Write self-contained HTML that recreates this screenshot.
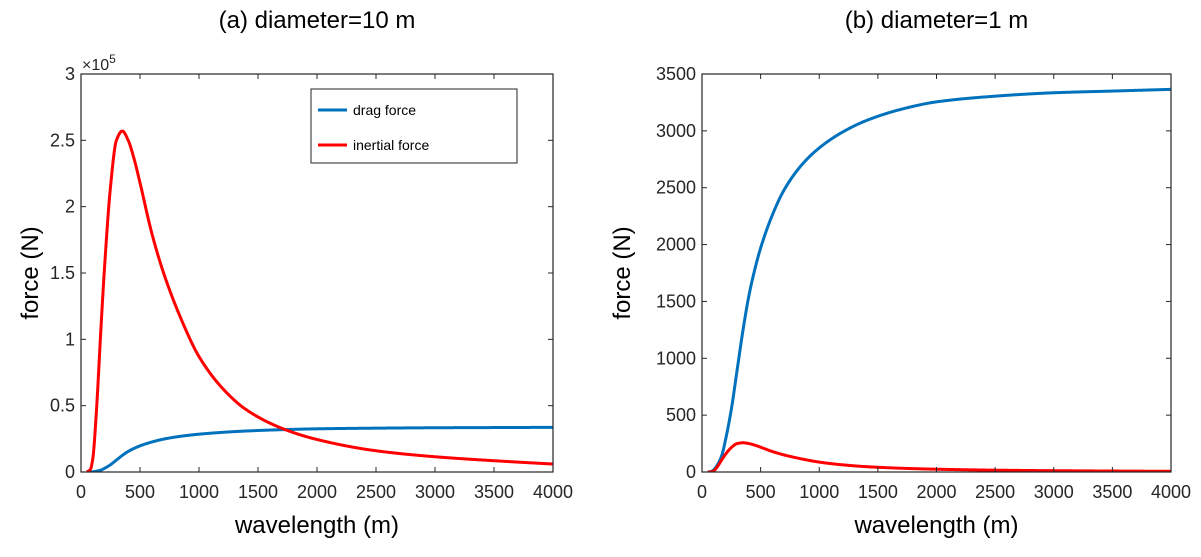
<!DOCTYPE html>
<html><head><meta charset="utf-8"><style>
body{margin:0;background:#fff;}
svg{font-family:"Liberation Sans",Arial,sans-serif;}
</style></head><body>
<svg id="fig" width="1201" height="552" viewBox="0 0 1201 552"></svg>
<script>
const wavelengths=[50,80,100,130,170,200,250,300,350,400,450,500,600,700,850,1000,1200,1400,1700,2000,2500,3000,3500,4000];
const dragForce1m=[0,5,20,60,150,280,550,900,1250,1550,1780,1970,2260,2480,2700,2850,2990,3090,3190,3255,3305,3335,3350,3365];
const inertialForce10m=[0,2000,10000,45000,110000,155000,215000,250000,257000,250000,236000,218000,180000,150000,115000,87000,63000,47000,33000,24500,16000,11500,8500,6000];
const xTicks=[0,500,1000,1500,2000,2500,3000,3500,4000];
const yTicksA=[0,0.5,1,1.5,2,2.5,3];
const yTicksB=[0,500,1000,1500,2000,2500,3000,3500];
const dragForce10m=dragForce1m.map(v=>v*10);
const inertialForce1m=inertialForce10m.map(v=>v/1000);
const NS="http://www.w3.org/2000/svg";
const svg=document.getElementById('fig');
function mk(tag,attrs,parent){const e=document.createElementNS(NS,tag);for(const k in attrs)e.setAttribute(k,attrs[k]);(parent||svg).appendChild(e);return e;}
function monotone(xs,ys){
  const n=xs.length,d=[],m=new Array(n);
  for(let i=0;i<n-1;i++)d.push((ys[i+1]-ys[i])/(xs[i+1]-xs[i]));
  m[0]=d[0];m[n-1]=d[n-2];
  for(let i=1;i<n-1;i++){
    if(d[i-1]*d[i]<=0)m[i]=0;
    else{const h0=xs[i]-xs[i-1],h1=xs[i+1]-xs[i];const w1=2*h1+h0,w2=h1+2*h0;m[i]=(w1+w2)/(w1/d[i-1]+w2/d[i]);}
  }
  return x=>{
    let i=0;while(i<n-2&&x>xs[i+1])i++;
    const h=xs[i+1]-xs[i],t=(x-xs[i])/h;
    const h00=2*t*t*t-3*t*t+1,h10=t*t*t-2*t*t+t,h01=-2*t*t*t+3*t*t,h11=t*t*t-t*t;
    return h00*ys[i]+h10*h*m[i]+h01*ys[i+1]+h11*h*m[i+1];
  };
}
function panel(p){
  const g=mk('g',{});
  
  
  const sx=v=>p.x0+(v-0)/4000*(p.x1-p.x0);
  const sy=v=>p.yb-(v/p.ymax)*(p.yb-p.yt);
  const clip='c'+p.name;
  const cp=mk('clipPath',{id:clip},g);mk('rect',{x:p.x0,y:p.yt-2,width:p.x1-p.x0,height:p.yb-p.yt+2},cp);
  const series=[[p.drag,'#0072BD','drag-force-line'],[p.inert,'#FF0000','inertial-force-line']];
  series.forEach(s=>{
    const f=monotone(wavelengths,s[0]);
    const pts=[];
    const w0=wavelengths[0],w1=wavelengths[wavelengths.length-1];
    for(let w=w0;w<=w1;w+=5)pts.push(sx(w).toFixed(2)+','+sy(f(w)).toFixed(2));
    const e=mk('polyline',{points:pts.join(' '),fill:'none',stroke:s[1],'stroke-width':3,'stroke-linejoin':'round','clip-path':`url(#${clip})`},g);
    
    
  });
  const box=mk('rect',{x:p.x0,y:p.yt,width:p.x1-p.x0,height:p.yb-p.yt,fill:'none',stroke:'#262626','stroke-width':1.2},g);
  
  
  xTicks.forEach(t=>{
    const x=sx(t);
    mk('line',{x1:x,x2:x,y1:p.yb,y2:p.yb-5,stroke:'#262626'},g);
    mk('line',{x1:x,x2:x,y1:p.yt,y2:p.yt+5,stroke:'#262626'},g);
    const tx=mk('text',{x:x,y:p.yb+26,'text-anchor':'middle','font-size':18,fill:'#262626'},g);
    tx.textContent=t;
    
    
  });
  p.yticks.forEach(t=>{
    const v=t*p.yscale,y=sy(v);
    mk('line',{x1:p.x0,x2:p.x0+5,y1:y,y2:y,stroke:'#262626'},g);
    mk('line',{x1:p.x1,x2:p.x1-5,y1:y,y2:y,stroke:'#262626'},g);
    const ty=mk('text',{x:p.x0-6,y:y+6,'text-anchor':'end','font-size':18,fill:'#262626'},g);
    ty.textContent=t;
    
    
  });
  const xl=mk('text',{x:(p.x0+p.x1)/2,y:533,'text-anchor':'middle','font-size':24,fill:'#000'},g);
  xl.textContent='wavelength (m)';
  
  
  const yl=mk('text',{x:0,y:0,'text-anchor':'middle','font-size':24,fill:'#000',transform:`translate(${p.ylx},${(p.yt+p.yb)/2}) rotate(-90)`},g);
  yl.textContent='force (N)';
  
  
  const tt=mk('text',{x:(p.x0+p.x1)/2,y:28,'text-anchor':'middle','font-size':24,fill:'#000'},g);
  tt.textContent=p.title;
  
  
}
panel({name:'panel-a',x0:81,x1:553,yt:74,yb:472,ymax:300000,yscale:100000,yticks:yTicksA,drag:dragForce10m,inert:inertialForce10m,ylx:38,title:'(a) diameter=10 m'});
panel({name:'panel-b',x0:702,x1:1171,yt:74,yb:472,ymax:3500,yscale:1,yticks:yTicksB,drag:dragForce1m,inert:inertialForce1m,ylx:630,title:'(b) diameter=1 m'});
const ex=mk('text',{x:82,y:70,'font-size':16,fill:'#262626'});
ex.innerHTML='×10<tspan dy="-7" font-size="12">5</tspan>';


const lg=mk('g',{});


mk('rect',{x:311,y:89,width:206,height:74,fill:'#fff',stroke:'#262626','stroke-width':1},lg);
[['drag force','#0072BD',110],['inertial force','#FF0000',145]].forEach(e=>{
  const en=mk('g',{},lg);
  
  
  mk('line',{x1:318,x2:347,y1:e[2],y2:e[2],stroke:e[1],'stroke-width':3},en);
  const t=mk('text',{x:353,y:e[2]+5,'font-size':14,fill:'#000'},en);t.textContent=e[0];
});
</script>
</body></html>
